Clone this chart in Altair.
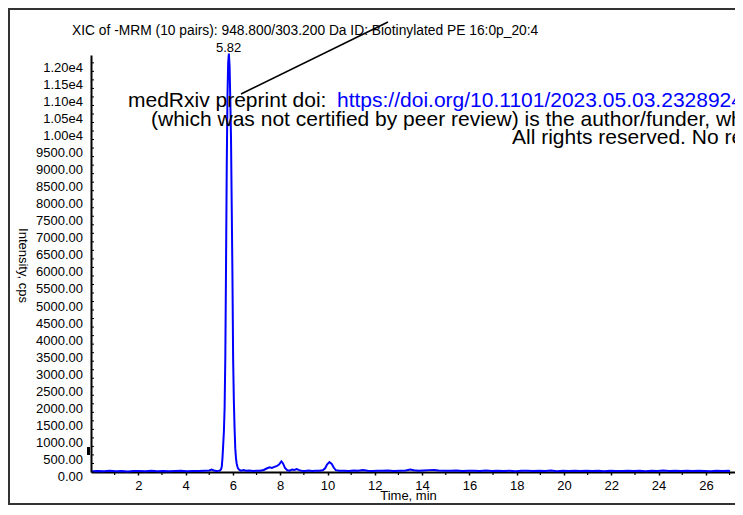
import altair as alt
import pandas as pd

# ---- data ----
times = [0.05, 0.30, 0.55, 0.80, 1.05, 1.30, 1.55, 1.80, 2.05, 2.30, 2.55, 2.80,
         3.05, 3.30, 3.55, 3.80, 4.05, 4.30, 4.55, 4.80, 5.00, 5.10, 5.20, 5.30,
         5.40, 5.45, 5.50, 5.53, 5.56, 5.59, 5.62, 5.65, 5.68, 5.71, 5.74, 5.77,
         5.80, 5.83, 5.86, 5.89, 5.92, 5.95, 5.98, 6.01, 6.04, 6.07, 6.10, 6.13,
         6.16, 6.19, 6.22, 6.26, 6.30, 6.35, 6.45, 6.55, 6.70, 6.85, 7.00, 7.15,
         7.30, 7.45, 7.55, 7.65, 7.75, 7.85, 7.95, 8.05, 8.12, 8.20, 8.30, 8.40,
         8.50, 8.60, 8.70, 8.80, 8.90, 9.05, 9.20, 9.35, 9.50, 9.65, 9.80, 9.90,
         9.98, 10.08, 10.18, 10.26, 10.35, 10.50, 10.70, 10.90, 11.10, 11.30, 11.50,
         11.70, 11.90, 12.10, 12.30, 12.55, 12.80, 13.05, 13.30, 13.50, 13.65, 13.85,
         14.05, 14.30, 14.50, 14.70, 14.95, 15.20, 15.45, 15.70, 15.95, 16.20, 16.45,
         16.70, 16.95, 17.20, 17.45, 17.70, 17.95, 18.20, 18.45, 18.70, 18.95, 19.20,
         19.45, 19.70, 19.95, 20.20, 20.45, 20.70, 20.95, 21.20, 21.45, 21.70, 21.95,
         22.20, 22.45, 22.70, 22.95, 23.20, 23.45, 23.70, 23.95, 24.20, 24.45, 24.70,
         24.95, 25.20, 25.45, 25.70, 25.95, 26.20, 26.45, 26.70, 26.95, 27.02]
intensity = [25, 30, 20, 35, 25, 30, 18, 32, 28, 22, 35, 25,
             30, 20, 28, 33, 22, 30, 26, 35, 45, 70, 45, 30,
             35, 40, 80, 160, 420, 800, 1200, 1900, 3400, 6100, 9000, 11000,
             12000, 12270, 11900, 10900, 9800, 7800, 5800, 3300, 2100, 1300, 700, 400,
             250, 160, 100, 70, 50, 40, 55, 35, 45, 30, 40, 35,
             60, 110, 135, 120, 150, 170, 220, 310, 250, 120, 50, 40,
             75, 60, 85, 55, 40, 30, 45, 30, 40, 35, 50, 110,
             220, 290, 240, 130, 55, 35, 40, 30, 45, 35, 55,
             40, 30, 40, 35, 45, 30, 40, 45, 70, 50, 40,
             45, 55, 60, 45, 40, 35, 45, 30, 40, 35, 30,
             42, 28, 38, 30, 40, 25, 35, 40, 28, 38, 30,
             42, 25, 35, 30, 40, 28, 36, 30, 40, 25, 38,
             32, 28, 40, 30, 35, 25, 38, 30, 42, 28, 35,
             30, 40, 28, 35, 32, 25, 38, 30, 35, 30]

peak_time = [5.82]
peak_height = [12270]
peak_label = ["5.82"]

y_label_values = list(range(0, 12001, 500))
y_tick_marks = list(range(0, 12001, 250))
x_label_values = list(range(2, 27, 2))
x_minor_ticks = list(range(1, 28, 2))

chart_title = "XIC of -MRM (10 pairs): 948.800/303.200 Da ID: Biotinylated PE 16:0p_20:4"
stamp_black_1 = "medRxiv preprint doi: "
stamp_blue_1 = "https://doi.org/10.1101/2023.05.03.23289245"
stamp_2 = "(which was not certified by peer review) is the author/funder, who has granted medRxiv a license to display the preprint in perpetuity."
stamp_3 = "All rights reserved. No reuse allowed without permission."

FONT = "Liberation Sans"
W, H = 644, 417

df = pd.DataFrame({"t": times, "i": intensity})
peak_df = pd.DataFrame({"t": peak_time, "i": peak_height, "lab": peak_label})
xminor_df = pd.DataFrame({"t": x_minor_ticks})
ytick_df = pd.DataFrame({"i": y_tick_marks})
ylab_df = pd.DataFrame({"i": y_label_values})

x_scale = alt.Scale(domain=[0, 27.23], nice=False, zero=False)
y_scale = alt.Scale(domain=[0, 12230], nice=False)

x_axis = alt.Axis(
    values=x_label_values, format="d",
    title="Time, min", titleX=317, titleY=23, titleAlign="center",
    titleBaseline="middle", titleFont=FONT, titleFontSize=13, titleFontWeight="normal",
    titleColor="#000", labelFont=FONT, labelFontSize=13, labelColor="#000",
    labelBaseline="middle", labelPadding=10, labelOverlap=False, labelFlush=False,
    tickSize=3, tickColor="#000", tickWidth=1.5, domainColor="#000", domainWidth=2,
    grid=False,
)
y_axis = alt.Axis(
    values=y_label_values, labels=False,
    title="Intensity, cps", titleAngle=90, titleX=-69, titleY=210, titleAlign="center",
    titleBaseline="middle", titleFont=FONT, titleFontSize=13, titleFontWeight="normal",
    titleColor="#000", ticks=False, domainColor="#000", domainWidth=2,
    grid=False,
)

trace = alt.Chart(df).mark_line(color="#0000FF", strokeWidth=2, clip=False).encode(
    x=alt.X("t:Q", scale=x_scale, axis=x_axis),
    y=alt.Y("i:Q", scale=y_scale, axis=y_axis),
)

x_minor = alt.Chart(xminor_df).mark_rule(color="#000", strokeWidth=1.2).encode(
    x=alt.X("t:Q", scale=x_scale), y=alt.value(H), y2=alt.value(H + 3)
)
y_ticks = alt.Chart(ytick_df).mark_rule(color="#000", strokeWidth=1).encode(
    y=alt.Y("i:Q", scale=y_scale), x=alt.value(0), x2=alt.value(3)
)
y_labels = alt.Chart(ylab_df).transform_calculate(
    lab="datum.i >= 10000 ? format(datum.i / 10000, '.2f') + 'e4' : format(datum.i, '.2f')"
).mark_text(
    font=FONT, fontSize=13, color="#000", align="right", baseline="middle", dy=5
).encode(y=alt.Y("i:Q", scale=y_scale), x=alt.value(-8), text="lab:N")

peak_text = alt.Chart(peak_df).mark_text(
    font=FONT, fontSize=13, color="#000", baseline="middle", align="center", dy=-6
).encode(x="t:Q", y="i:Q", text="lab:N")

one = pd.DataFrame({"k": [0]})

title_mark = alt.Chart(one).mark_text(
    font=FONT, fontSize=13.8, color="#000", align="left", baseline="middle", text=chart_title
).encode(x=alt.value(-19), y=alt.value(-24.5))

stamp1a = alt.Chart(one).mark_text(
    font=FONT, fontSize=21, color="#000", align="left", baseline="middle", text=stamp_black_1
).encode(x=alt.value(37), y=alt.value(46))
stamp1b = alt.Chart(one).mark_text(
    font=FONT, fontSize=21, color="#0000FF", align="left", baseline="middle", text=stamp_blue_1
).encode(x=alt.value(246), y=alt.value(46))
stamp2 = alt.Chart(one).mark_text(
    font=FONT, fontSize=21, color="#000", align="left", baseline="middle", text=stamp_2
).encode(x=alt.value(60), y=alt.value(65))
stamp3 = alt.Chart(one).mark_text(
    font=FONT, fontSize=21, color="#000", align="left", baseline="middle", text=stamp_3
).encode(x=alt.value(421), y=alt.value(83))

pointer = alt.Chart(one).mark_rule(color="#000", strokeWidth=1.5).encode(
    x=alt.value(150), y=alt.value(39), x2=alt.value(297), y2=alt.value(-33)
)

marker = alt.Chart(one).mark_rect(color="#000").encode(
    x=alt.value(-4), x2=alt.value(-1), y=alt.value(392), y2=alt.value(400)
)

frame = alt.Chart(one).mark_rect(fillOpacity=0, stroke="#333333", strokeWidth=2).encode(
    x=alt.value(-82), x2=alt.value(720), y=alt.value(-46), y2=alt.value(449)
)

chart = alt.layer(
    trace, x_minor, y_ticks, y_labels, peak_text, title_mark, stamp1a, stamp1b, stamp2,
    stamp3, pointer, marker, frame
).properties(
    width=W, height=H,
    autosize=alt.AutoSizeParams(type="none"),
    padding={"left": 83, "top": 47, "right": 0, "bottom": 33},
    background="#ffffff",
).configure_view(stroke=None)

chart.save("out.html", embed_options={"renderer": "svg", "actions": False})
